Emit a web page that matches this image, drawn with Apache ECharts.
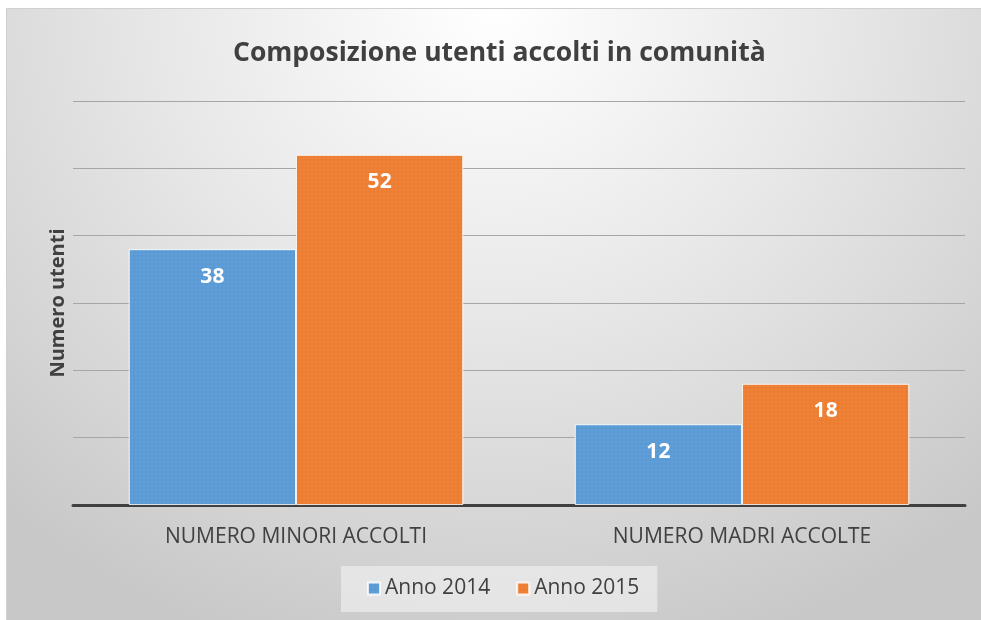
<!DOCTYPE html>
<html>
<head>
<meta charset="utf-8">
<script src="https://cdn.jsdelivr.net/npm/echarts@6/dist/echarts.min.js"></script>
<style>
    html, body { margin: 0; padding: 0; background: #fff; overflow: hidden; }
    #frame {
        position: absolute; left: 6px; top: 8px;
        width: 975px; height: 612px;
        box-sizing: border-box;
        border-top: 1px solid #d0d0d0; border-left: 1px solid #d0d0d0;
        background: radial-gradient(ellipse 75% 110% at 50% 0%, #ffffff 0%, #e8e8e8 45%, #d4d4d4 80%, #c8c8c8 100%);
    }
    #chart { width: 974px; height: 611px; }
</style>
</head>
<body>
<div id="frame"><div id="chart"></div></div>
<script>
const categories = ['NUMERO MINORI ACCOLTI', 'NUMERO MADRI ACCOLTE'];
const seriesNames = ['Anno 2014', 'Anno 2015'];
const values2014 = [38, 12];
const values2015 = [52, 18];
const seriesColors = ['#5b9bd5', '#ed7d31'];

const FONT = '"Open Sans", sans-serif';

const chart = echarts.init(document.getElementById('chart'));

function barSeries(name, data, color) {
    return {
        name: name,
        type: 'bar',
        data: data,
        barWidth: '37.5%',
        barGap: '0%',
        itemStyle: {
            color: color,
            borderColor: 'rgba(255,255,255,0.55)',
            borderWidth: 1,
            decal: {
                symbol: 'rect',
                symbolSize: 0.6,
                color: 'rgba(255,255,255,0.2)',
                dashArrayX: [2, 2],
                dashArrayY: [2, 2],
                rotation: 0
            }
        },
        label: {
            show: true,
            position: 'insideTop',
            distance: 17,
            color: '#fff',
            fontFamily: FONT,
            fontWeight: 'bold',
            fontSize: 21
        }
    };
}

const option = {
    aria: { enabled: true, decal: { show: true } },
    textStyle: { fontFamily: FONT },
    title: {
        text: 'Composizione utenti accolti in comunità',
        left: 221,
        top: 26,
        textStyle: { color: '#404040', fontSize: 26.5, fontWeight: 'bold', fontFamily: FONT }
    },
    grid: { left: 66, right: 16, top: 92, bottom: 115 },
    legend: {
        data: seriesNames,
        left: 334,
        top: 557,
        padding: [12, 18, 13, 26],
        backgroundColor: 'rgba(238,238,238,0.7)',
        itemWidth: 12,
        itemHeight: 12,
        itemGap: 26,
        icon: 'rect',
        textStyle: { color: '#404040', fontSize: 21, fontFamily: FONT }
    },
    xAxis: {
        type: 'category',
        data: categories,
        axisLine: { lineStyle: { color: '#404040', width: 3 } },
        axisTick: { show: false },
        axisLabel: { color: '#404040', fontSize: 21, margin: 22, fontFamily: FONT }
    },
    yAxis: {
        type: 'value',
        min: 0,
        max: 60,
        interval: 10,
        name: 'Numero utenti',
        nameLocation: 'middle',
        nameGap: 5,
        nameRotate: 90,
        nameTextStyle: { color: '#404040', fontSize: 20, fontWeight: 'bold', fontFamily: FONT },
        axisLabel: { show: false },
        axisLine: { show: false },
        axisTick: { show: false },
        splitLine: { lineStyle: { color: '#a6a6a6', width: 1 } }
    },
    series: [
        barSeries(seriesNames[0], values2014, seriesColors[0]),
        barSeries(seriesNames[1], values2015, seriesColors[1])
    ]
};

chart.setOption(option);
</script>
</body>
</html>
